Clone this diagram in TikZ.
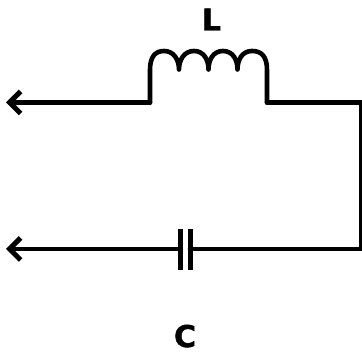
\documentclass[tikz,border=0pt]{standalone}
\usepackage{fontspec}
\setmainfont[BoldFeatures={FakeBold=1.5}]{DejaVu Sans}
\usetikzlibrary{arrows.meta}
\tikzset{
  wire/.style={line width=4.6pt,line join=round,line cap=round,black},
  plate/.style={line width=5pt,black},
  barb/.style={-{Straight Barb[length=11pt,width=22pt,line width=5pt]}},
  lbl/.style={font=\bfseries\fontsize{30}{30}\selectfont,inner sep=0pt,anchor=base}
}
\begin{document}
\begin{tikzpicture}[x=1pt,y=-1pt]
\useasboundingbox (0,0) rectangle (362,352);
\coordinate (t1) at (6,102.5);
\coordinate (la) at (150,102.5);
\coordinate (lb) at (267,102.5);
\coordinate (ra) at (361.5,102.5);
\coordinate (rb) at (361.5,249);
\coordinate (t2) at (6,249);
\coordinate (p1t) at (180,229);
\coordinate (p1b) at (180,270);
\coordinate (p2t) at (190,229);
\coordinate (p2b) at (190,270);
\coordinate (p1m) at (180,249);
\coordinate (p2m) at (190,249);
\node[lbl] (L) at (211.5,30.5) {L};
\node[lbl] (C) at (185,347) {C};
% inductor
\draw[wire] (lb) -- (ra) -- (rb) -- (p2m);
\draw[wire] (la) -- (150,70)
  .. controls (150,57) and (155,51) .. (164,51)
  .. controls (174,51) and (179,60) .. (179,69.5)
  .. controls (179,60) and (184,51) .. (194,51)
  .. controls (204,51) and (208.5,60) .. (208.5,69.5)
  .. controls (208.5,60) and (213,51) .. (223,51)
  .. controls (233,51) and (237.5,60) .. (237.5,69.5)
  .. controls (237.5,60) and (242,51) .. (252,51)
  .. controls (262,51) and (267,57) .. (267,70)
  -- (lb);
\draw[wire,barb] (la) -- (t1);
\draw[wire,barb] (p1m) -- (t2);
\draw[plate] (p1t) -- (p1b);
\draw[plate] (p2t) -- (p2b);
\end{tikzpicture}
\end{document}
